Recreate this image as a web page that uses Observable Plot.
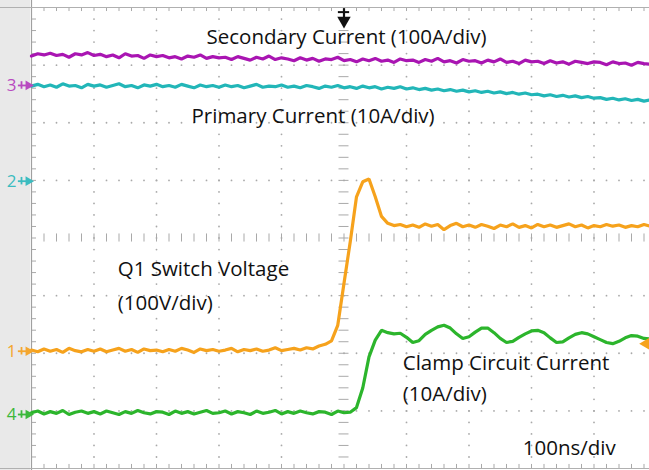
<!DOCTYPE html>
<html><head><meta charset="utf-8">
<script src="https://cdn.jsdelivr.net/npm/d3@7"></script>
<script src="https://cdn.jsdelivr.net/npm/@observablehq/plot@0.6"></script>
<style>
html,body{margin:0;padding:0;background:#fff;overflow:hidden;}
#chart svg{display:block;}
</style></head><body><div id="chart"></div>
<script>
// Sample times (ns), 100 ns per division
const timesNs = [0,10,20,30,40,50,60,70,80,90,100,110,120,130,140,150,160,170,180,190,200,210,220,230,240,250,260,270,280,290,300,310,320,330,340,350,360,370,380,390,400,410,420,430,440,450,460,470,480,490,500,510,520,530,540,550,560,570,580,590,600,610,620,630,640,650,660,670,680,690,700,710,720,730,740,750,760,770,780,790,800,810,820,830,840,850,860,870,880,890,900,910,920,930,940,950,960,970,980,990,1000];

// Channel 1: Q1 switch voltage (V)
const q1Volts = [2,-1,4,0,3,-2,5,1,-1,3,0, 4,-1,2,5,0,3,-2,4,1,2, -1,3,0,5,2,-2,4,1,3,0, 2,5,-1,3,1,4,0,2,6,1, 3,5,2,6,4,9,12,18,45,118, 190,268,294,299,268,234,222,218,220,216, 219,215,221,217,220,211,218,222,216,219, 215,220,217,213,219,216,221,215,218,214, 220,216,219,215,218,221,216,219,214,218, 216,220,217,219,215,218,216,220,217,218];
// Channel 2: primary current (A)
const primaryAmps = [16.5,16.8,16.4,16.7,16.3,16.9,16.5,16.6,16.2,16.8,16.5, 16.7,16.3,16.6,16.9,16.4,16.6,16.2,16.7,16.5,16.8, 16.4,16.6,16.3,16.8,16.5,16.2,16.7,16.4,16.6,16.3, 16.7,16.4,16.6,16.2,16.5,16.8,16.3,16.5,16.4,16.7, 16.3,16.5,16.2,16.6,16.4,16.1,16.5,16.3,16.6,16.2, 16.4,16.1,16.5,16.2,16.4,16.0,16.3,16.1,16.4,16.0, 16.2,15.9,16.1,15.8,16.0,15.7,15.9,15.6,15.8,15.5, 15.7,15.4,15.6,15.3,15.5,15.2,15.4,15.1,15.3,15.0, 15.1,14.8,15.0,14.7,14.9,14.6,14.8,14.5,14.7,14.4, 14.5,14.2,14.4,14.1,14.3,14.0,14.2,13.9,14.1,13.9];
// Channel 3: secondary current (A)
const secondaryAmps = [51,55,53,56,52,54,49,55,53,57,52, 54,50,53,48,55,51,52,47,53,50, 52,48,50,46,51,49,53,47,50,48, 49,45,50,47,44,49,46,51,45,48, 46,43,48,44,47,42,46,45,49,43, 45,41,46,43,47,42,44,40,46,43, 44,40,45,42,47,41,43,39,45,42, 43,39,44,41,46,40,42,38,44,41, 42,38,43,39,41,37,42,40,38,41, 40,36,41,38,39,35,40,38,37,39];
// Channel 4: clamp circuit current (A)
const clampAmps = [0.3,0.6,0.1,0.5,0.2,0.7,0.0,0.4,0.6,0.2,0.5, 0.1,0.6,0.3,0.0,0.5,0.2,0.7,0.3,0.1,0.5, 0.4,0.0,0.6,0.2,0.5,0.1,0.4,0.7,0.2,0.3, 0.6,0.1,0.5,0.3,0.0,0.6,0.2,0.4,0.7,0.1, 0.5,0.2,0.6,0.3,0.1,0.5,0.4,0.0,0.6,0.3, 0.4,1.2,4.6,10.0,12.9,14.6,14.2,14.0,14.1,13.4, 12.5,12.8,13.9,14.6,15.2,15.5,15.0,14.0,13.2,13.5, 14.3,15.0,15.0,14.2,13.2,12.5,12.7,13.4,14.0,14.5, 14.6,14.2,13.3,12.5,12.6,13.3,13.9,14.2,14.0,13.5, 13.0,12.5,12.3,12.7,13.3,13.7,13.6,13.2,13.1,13.0];

const channelNumbers = ["1","2","3","4"];
const channelValues = [q1Volts, primaryAmps, secondaryAmps, clampAmps];
const channelPerDiv = [100, 10, 100, 10];       // units per division
const channelOffsetDiv = [-1.965, 0.986, 2.647, -3.063];
const channelColors = ["#f6a21c", "#22b6b8", "#a915b2", "#2cb52c"];
const channelLabelColors = ["#f4a62e", "#3bbcc0", "#b84ac0", "#3cb83c"];

const triggerTimeNs = [500];
const triggerLevelV = [13];

const annotationTexts = ["Secondary Current (100A/div)", "Primary Current (10A/div)", "Q1 Switch Voltage", "(100V/div)", "Clamp Circuit Current", "(10A/div)", "100ns/div"];
const annotationT = [280, 256, 138, 138, 594, 594, 786];
const annotationV = [3.375, 2.004, -0.651, -1.241, -2.282, -2.837, -3.774];

// Build tables for the library
const traces = [];
channelValues.forEach((vals, c) => {
  vals.forEach((v, i) => traces.push({ch: channelNumbers[c], t: timesNs[i], y: channelOffsetDiv[c] + v / channelPerDiv[c]}));
});
const chTable = channelNumbers.map((n, c) => ({n, y: channelOffsetDiv[c], color: channelLabelColors[c]}));
const annotations = annotationTexts.map((text, i) => ({text, t: annotationT[i], v: annotationV[i]}));

const minorT = d3.range(0, 51).map(k => k * 20);
const minorV = d3.range(-20, 21).map(k => k / 5);
const majorT = [100,200,300,400,600,700,800,900];
const majorV = [-3,-2,-1,1,2,3];
const gridDotsV = majorT.flatMap(t => minorV.filter(v => Math.abs(v) < 4).map(v => ({t, v})));
const gridDotsH = majorV.flatMap(v => minorT.filter(t => t > 0 && t < 1000).map(t => ({t, v})));
const gridGrey = "#a9a9a9";

const plot = Plot.plot({
  width: 649, height: 470,
  marginTop: 0, marginRight: 0, marginBottom: 0, marginLeft: 0,
  x: {domain: [0, 1000], range: [31, 656], axis: null},
  y: {domain: [-4, 4], range: [468, 7], axis: null},
  style: {background: "linear-gradient(to right, #e9e9e9 0px, #e9e9e9 30px, #ffffff 30px)", fontFamily: "'Open Sans', sans-serif", overflow: "hidden"},
  marks: [
    // dotted graticule
    Plot.dot(gridDotsV, {x: "t", y: "v", r: 0.9, fill: gridGrey, stroke: null}),
    Plot.dot(gridDotsH, {x: "t", y: "v", r: 0.9, fill: gridGrey, stroke: null}),
    // centre cross ticks
    Plot.ruleX(minorT, {x: d => d, y1: -0.07, y2: 0.07, stroke: gridGrey, strokeWidth: 1}),
    Plot.ruleY(minorV, {y: d => d, x1: 492, x2: 508, stroke: gridGrey, strokeWidth: 1}),
    // frame ticks
    Plot.ruleX(minorT, {x: d => d, y1: 4, y2: 3.93, stroke: gridGrey}),
    Plot.ruleX(minorT, {x: d => d, y1: -4, y2: -3.93, stroke: gridGrey}),
    Plot.ruleY(minorV, {y: d => d, x1: 0, x2: 8, stroke: gridGrey}),
    // frame
    Plot.ruleX([0, 1000], {stroke: "#a0a0a0", strokeWidth: 1.2}),
    Plot.ruleY([-4, 4], {stroke: "#b0b0b0", strokeWidth: 1}),
    // traces
    Plot.line(traces, {x: "t", y: "y", z: "ch", stroke: d => channelColors[channelNumbers.indexOf(d.ch)], strokeWidth: 3.2, curve: "linear", strokeLinejoin: "miter"}),
    // channel markers at left
    Plot.text(chTable, {x: 0, y: "y", text: "n", dx: -20, fill: "color", fontSize: 17, textAnchor: "middle"}),
    Plot.ruleY(chTable, {y: "y", x1: -21, x2: -2, stroke: "color", strokeWidth: 1.8}),
    Plot.ruleX(chTable, {x: -16, y1: d => d.y - 0.065, y2: d => d.y + 0.065, stroke: "color", strokeWidth: 1.8}),
    Plot.dot(chTable, {x: -5, y: "y", symbol: "triangle", rotate: 90, r: 3.6, fill: "color", stroke: null}),
    // trigger position arrow (top)
    Plot.ruleX(triggerTimeNs, {x: d => d, y1: 3.98, y2: 3.80, stroke: "#111", strokeWidth: 2.2}),
    Plot.ruleY(triggerTimeNs, {y: 3.92, x1: d => d - 9, x2: d => d + 9, stroke: "#111", strokeWidth: 2}),
    Plot.dot(triggerTimeNs, {x: d => d, y: 3.77, symbol: "triangle", rotate: 180, r: 5, fill: "#111", stroke: null}),
    // trigger level arrow (right)
    Plot.dot(triggerLevelV, {x: 986, y: d => channelOffsetDiv[0] + d / channelPerDiv[0], symbol: "triangle", rotate: -90, r: 5.5, fill: "#f6a21c", stroke: null}),
    // annotations
    Plot.text(annotations, {x: "t", y: "v", text: "text", textAnchor: "start", lineAnchor: "bottom", fontSize: 20.5, fill: "#111"})
  ]
});
document.getElementById("chart").appendChild(plot);
</script>
</body></html>
